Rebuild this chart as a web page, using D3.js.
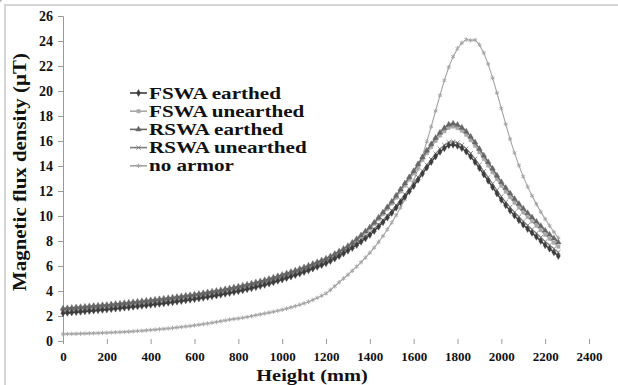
<!DOCTYPE html>
<html>
<head>
<meta charset="utf-8">
<script src="https://cdn.jsdelivr.net/npm/d3@7"></script>
<style>
  body { margin: 0; background: #fff; }
  svg text { font-weight: bold; fill: #111; }
</style>
</head>
<body>
<div id="chart"></div>
<script>
// heights in mm, one point every 20 mm
const heights = d3.range(0, 2261, 20);

const fswaEarthed = [2.22,2.25,2.28,2.31,2.34,2.37,2.40,2.43,2.46,2.49,2.52,2.55,2.59,2.62,2.66,2.69,2.73,2.77,2.81,2.85,
  2.89,2.93,2.97,3.01,3.06,3.10,3.15,3.20,3.25,3.30,3.35,3.40,3.46,3.52,3.58,3.64,3.70,3.77,3.84,3.91,
  3.98,4.06,4.14,4.22,4.31,4.40,4.49,4.59,4.70,4.81,4.92,5.03,5.15,5.27,5.39,5.52,5.65,5.79,5.93,6.07,
  6.22,6.40,6.59,6.79,7.00,7.22,7.44,7.68,7.94,8.21,8.48,8.80,9.14,9.50,9.87,10.24,10.66,11.10,11.54,11.97,
  12.40,12.89,13.38,13.87,14.32,14.76,15.13,15.42,15.66,15.70,15.61,15.43,15.14,14.75,14.31,13.83,13.32,12.82,12.31,11.80,
  11.29,10.85,10.43,10.03,9.66,9.30,8.96,8.65,8.33,8.00,7.66,7.38,7.09,6.80];

const fswaUnearthed = [2.48,2.51,2.54,2.57,2.60,2.63,2.66,2.69,2.72,2.75,2.78,2.81,2.85,2.88,2.92,2.95,2.99,3.03,3.07,3.11,
  3.15,3.19,3.23,3.27,3.32,3.36,3.41,3.46,3.51,3.56,3.61,3.66,3.72,3.78,3.84,3.90,3.96,4.03,4.10,4.17,
  4.24,4.32,4.40,4.48,4.57,4.66,4.75,4.85,4.96,5.07,5.18,5.29,5.41,5.53,5.65,5.78,5.91,6.05,6.19,6.33,
  6.48,6.66,6.85,7.05,7.26,7.48,7.75,8.04,8.35,8.67,8.99,9.36,9.75,10.15,10.58,11.00,11.47,11.96,12.44,12.92,
  13.41,13.95,14.49,15.02,15.52,16.01,16.44,16.78,17.06,17.15,17.03,16.82,16.50,16.08,15.62,15.10,14.56,14.04,13.50,12.95,
  12.42,11.95,11.50,11.07,10.67,10.28,9.92,9.57,9.22,8.87,8.50,8.18,7.87,7.55];

const rswaEarthed = [2.60,2.63,2.66,2.69,2.72,2.75,2.78,2.81,2.84,2.87,2.90,2.93,2.97,3.00,3.04,3.07,3.11,3.15,3.19,3.23,
  3.27,3.31,3.35,3.39,3.44,3.48,3.53,3.58,3.63,3.68,3.73,3.78,3.84,3.90,3.96,4.02,4.08,4.15,4.22,4.29,
  4.36,4.44,4.52,4.60,4.69,4.78,4.87,4.97,5.08,5.19,5.30,5.41,5.53,5.65,5.77,5.90,6.03,6.17,6.31,6.45,
  6.60,6.78,6.97,7.17,7.38,7.60,7.87,8.16,8.46,8.78,9.10,9.48,9.88,10.29,10.72,11.15,11.63,12.13,12.62,13.11,
  13.60,14.15,14.70,15.24,15.75,16.25,16.68,17.03,17.32,17.40,17.29,17.07,16.76,16.35,15.89,15.37,14.84,14.32,13.79,13.24,
  12.71,12.25,11.81,11.37,10.98,10.60,10.24,9.89,9.55,9.20,8.84,8.52,8.21,7.90];

const rswaUnearthed = [2.34,2.37,2.40,2.43,2.46,2.49,2.52,2.55,2.58,2.61,2.64,2.67,2.71,2.74,2.78,2.81,2.85,2.89,2.93,2.97,
  3.01,3.05,3.09,3.13,3.18,3.22,3.27,3.32,3.37,3.42,3.47,3.52,3.58,3.64,3.70,3.76,3.82,3.89,3.96,4.03,
  4.10,4.18,4.26,4.34,4.43,4.52,4.61,4.71,4.82,4.93,5.04,5.15,5.27,5.39,5.51,5.64,5.77,5.91,6.05,6.19,
  6.34,6.52,6.71,6.91,7.12,7.34,7.57,7.82,8.07,8.35,8.63,8.96,9.31,9.66,10.04,10.42,10.85,11.29,11.73,12.17,
  12.61,13.10,13.60,14.09,14.54,14.99,15.37,15.67,15.90,15.95,15.86,15.68,15.39,15.01,14.57,14.09,13.58,13.09,12.58,12.06,
  11.56,11.12,10.71,10.30,9.94,9.58,9.25,8.93,8.62,8.29,7.96,7.67,7.39,7.10];

const noArmor = [0.55,0.56,0.57,0.58,0.59,0.60,0.61,0.62,0.63,0.65,0.66,0.68,0.70,0.71,0.73,0.75,0.77,0.80,0.82,0.85,
  0.88,0.91,0.94,0.97,1.00,1.04,1.08,1.12,1.16,1.20,1.25,1.30,1.35,1.40,1.46,1.52,1.58,1.64,1.71,1.76,
  1.80,1.86,1.92,1.99,2.06,2.13,2.20,2.27,2.34,2.42,2.50,2.59,2.69,2.79,2.90,3.01,3.14,3.29,3.45,3.62,
  3.80,4.08,4.38,4.70,5.00,5.30,5.62,5.95,6.30,6.67,7.05,7.47,7.92,8.40,8.92,9.47,10.06,10.68,11.34,12.05,
  12.82,13.75,14.80,15.95,17.15,18.40,19.65,20.85,21.90,22.75,23.40,23.85,24.12,24.05,24.08,23.70,23.05,22.15,21.05,19.85,
  18.60,17.35,16.15,15.05,14.05,13.15,12.35,11.62,10.95,10.33,9.76,9.22,8.72,8.25,7.80];

const seriesNames = ["FSWA earthed", "FSWA unearthed", "RSWA earthed", "RSWA unearthed", "no armor"];
const xTicks = d3.range(0, 2401, 200);
const yTicks = d3.range(0, 27, 2);

const series = [
  {name: seriesNames[0], values: fswaEarthed,   color: "#3c3c3c", symbol: d3.symbolDiamond,  size: 14, width: 1.4},
  {name: seriesNames[1], values: fswaUnearthed, color: "#a9a9a9", symbol: d3.symbolSquare,   size: 12, width: 1.4},
  {name: seriesNames[2], values: rswaEarthed,   color: "#676767", symbol: d3.symbolTriangle, size: 14, width: 1.4},
  {name: seriesNames[3], values: rswaUnearthed, color: "#7c7c7c", symbol: d3.symbolTimes || d3.symbolCross, size: 14, width: 1.2, stroke: true},
  {name: seriesNames[4], values: noArmor,       color: "#a3a3a3", symbol: d3.symbolAsterisk || d3.symbolCross, size: 14, width: 1.1, stroke: true}
];

const W = 618, H = 385;
const margin = {top: 16, right: 29, bottom: 44, left: 63};
const serif = '"Liberation Serif", "Times New Roman", Times, serif';

const svg = d3.select("#chart").append("svg")
  .attr("width", W).attr("height", H);

// outer frame (only top and left edges fall inside the picture)
svg.append("path")
  .attr("d", "M5,390 V5 H620")
  .attr("fill", "none").attr("stroke", "#d4d4d4").attr("stroke-width", 2);

const x = d3.scaleLinear().domain([0, 2400]).range([margin.left, W - margin.right]);
const y = d3.scaleLinear().domain([0, 26]).range([H - margin.bottom, margin.top]);

// y axis
const yAxis = svg.append("g")
  .attr("transform", "translate(" + margin.left + ",0)")
  .call(d3.axisLeft(y).tickValues(yTicks).tickSize(5).tickPadding(5).tickFormat(d3.format("d")));
yAxis.attr("font-family", serif);
yAxis.select(".domain").attr("stroke", "#9a9a9a");
yAxis.selectAll(".tick line").attr("stroke", "#9a9a9a");
yAxis.selectAll("text").style("font-size", "14px").style("font-family", serif);

// x axis, ticks only
const xAxis = svg.append("g")
  .attr("transform", "translate(0," + (H - margin.bottom) + ")")
  .call(d3.axisBottom(x).tickValues(xTicks).tickSize(4).tickPadding(7).tickFormat(d3.format("d")));
xAxis.attr("font-family", serif);
xAxis.select(".domain").remove();
xAxis.selectAll(".tick line").attr("stroke", "#9a9a9a").attr("y1", -2).attr("y2", 3);
xAxis.selectAll("text").style("font-size", "13px").style("font-family", serif);

// axis titles
svg.append("text")
  .attr("transform", "translate(26,172) rotate(-90) scale(1.1,1)")
  .attr("text-anchor", "middle")
  .style("font-size", "19px").style("font-family", serif)
  .text("Magnetic flux density (µT)");

svg.append("text")
  .attr("transform", "translate(312,381) scale(1.2,1)")
  .attr("text-anchor", "middle")
  .style("font-size", "17px").style("font-family", serif)
  .text("Height (mm)");

const line = d3.line()
  .x((d, i) => x(heights[i]))
  .y(d => y(d));

function drawMarkers(g, s, pts) {
  const sym = d3.symbol().type(s.symbol).size(s.size);
  g.selectAll("path.mk")
    .data(pts)
    .join("path")
    .attr("class", "mk")
    .attr("d", sym)
    .attr("transform", d => "translate(" + d[0] + "," + d[1] + ")")
    .attr("fill", s.stroke ? "none" : s.color)
    .attr("stroke", s.color)
    .attr("stroke-width", s.stroke ? 0.9 : 0.4);
}

// draw no armor first so the armored bundle sits above it
const order = [4, 1, 3, 2, 0];
order.forEach(k => {
  const s = series[k];
  const g = svg.append("g");
  g.append("path")
    .attr("d", line(s.values))
    .attr("fill", "none")
    .attr("stroke", s.color)
    .attr("stroke-width", s.width);
  drawMarkers(g, s, s.values.map((v, i) => [x(heights[i]), y(v)]));
});

// legend
const legend = svg.append("g").attr("transform", "translate(130,93)");
series.forEach((s, i) => {
  const row = legend.append("g").attr("transform", "translate(0," + (i * 18.2) + ")");
  row.append("line")
    .attr("x1", 0).attr("x2", 17)
    .attr("stroke", s.color).attr("stroke-width", 1.6);
  drawMarkers(row, s, [[8.5, 0]]);
  row.append("text")
    .attr("transform", "translate(19,5.5) scale(1.32,1)")
    .style("font-size", "16px").style("font-family", serif)
    .text(s.name);
});
</script>
</body>
</html>
